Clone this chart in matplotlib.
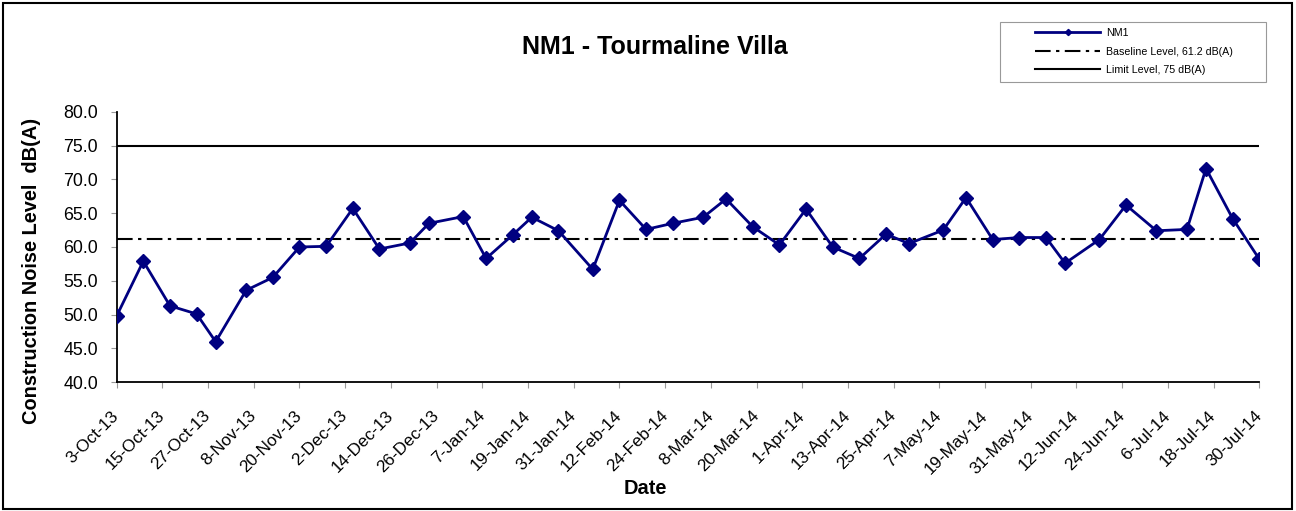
import pandas as pd
import matplotlib
matplotlib.use("Agg")
import matplotlib.pyplot as plt
from matplotlib.patches import Rectangle
from matplotlib.ticker import FormatStrFormatter

plt.rcParams["font.family"] = ["Liberation Sans", "DejaVu Sans"]

dates = [
    "2013-10-03", "2013-10-10", "2013-10-17", "2013-10-24", "2013-10-29",
    "2013-11-06", "2013-11-13", "2013-11-20", "2013-11-27", "2013-12-04",
    "2013-12-11", "2013-12-19", "2013-12-24", "2014-01-02", "2014-01-08",
    "2014-01-15", "2014-01-20", "2014-01-27", "2014-02-05", "2014-02-12",
    "2014-02-19", "2014-02-26", "2014-03-06", "2014-03-12", "2014-03-19",
    "2014-03-26", "2014-04-02", "2014-04-09", "2014-04-16", "2014-04-23",
    "2014-04-29", "2014-05-08", "2014-05-14", "2014-05-21", "2014-05-28",
    "2014-06-04", "2014-06-09", "2014-06-18", "2014-06-25", "2014-07-03",
    "2014-07-11", "2014-07-16", "2014-07-23", "2014-07-30",
]
nm1 = [
    49.8, 57.9, 51.3, 50.1, 46.0, 53.6, 55.5, 60.0, 60.1, 65.7,
    59.7, 60.6, 63.5, 64.5, 58.3, 61.8, 64.4, 62.4, 56.7, 66.9,
    62.6, 63.5, 64.4, 67.1, 63.0, 60.3, 65.6, 60.0, 58.3, 61.9,
    60.5, 62.5, 67.3, 61.1, 61.4, 61.4, 57.6, 61.1, 66.2, 62.4,
    62.6, 71.6, 64.2, 58.2,
]
baseline = 61.2
limit = 75.0

x = pd.to_datetime(dates)
start, end = x[0], x[-1]

fig = plt.figure(figsize=(12.96, 5.11), dpi=100)
ax = fig.add_axes([0.0900, 0.2519, 0.8817, 0.5295])

ax.axhline(limit, color="black", lw=1.5, label="Limit Level, 75 dB(A)", zorder=2)
ax.axhline(baseline, color="black", lw=1.5, dashes=(7.5, 2.6, 1.6, 2.6),
           label="Baseline Level, 61.2 dB(A)", zorder=2)
ax.plot(x, nm1, color="#000080", lw=2.0, marker="D", markersize=7,
        label="NM1", zorder=3)

ax.set_xlim(start, end)
ax.set_ylim(40, 80)
ax.set_yticks(range(40, 81, 5))
ax.yaxis.set_major_formatter(FormatStrFormatter("%.1f"))

ticks = pd.date_range(start, end, freq="12D")
ax.set_xticks(ticks)
ax.set_xticklabels([f"{t.day}-{t.strftime('%b-%y')}" for t in ticks],
                   rotation=45, ha="right", va="center", rotation_mode="anchor",
                   fontsize=12.3)
ax.tick_params(axis="y", labelsize=12.8, pad=9)
ax.tick_params(axis="x", pad=18)
ax.tick_params(axis="both", direction="out", length=4.5, color="#999999")

for s in ("top", "right"):
    ax.spines[s].set_visible(False)
for s in ("left", "bottom"):
    ax.spines[s].set_linewidth(1.3)

ax.set_ylabel("Construction Noise Level  dB(A)", fontsize=14.4, fontweight="bold")
ax.yaxis.set_label_coords(-0.066, 0.41)
ax.set_xlabel("Date", fontsize=14.4, fontweight="bold")
ax.xaxis.set_label_coords(0.463, -0.357)

fig.text(0.5054, 0.908, "NM1 - Tourmaline Villa", ha="center", va="center",
         fontsize=18, fontweight="bold")

h, l = ax.get_legend_handles_labels()
order = [2, 1, 0]
leg = fig.legend([h[i] for i in order], [l[i] for i in order],
                 loc="upper left", bbox_to_anchor=(1035 / 1296, 1 - 28 / 511),
                 fontsize=7.7, frameon=False, handlelength=6.1, handletextpad=0.55,
                 markerscale=0.45, borderpad=0, borderaxespad=0, labelspacing=0.8)

fig.patches.append(Rectangle((1000 / 1296, 1 - 82 / 511), 266 / 1296, 60 / 511,
                             transform=fig.transFigure, fill=False,
                             edgecolor="#999999", lw=0.8))
fig.patches.append(Rectangle((0.002, 0.004), 0.995, 0.991, transform=fig.transFigure,
                             fill=False, edgecolor="black", lw=1.5))

fig.savefig("out.png", dpi=100)
